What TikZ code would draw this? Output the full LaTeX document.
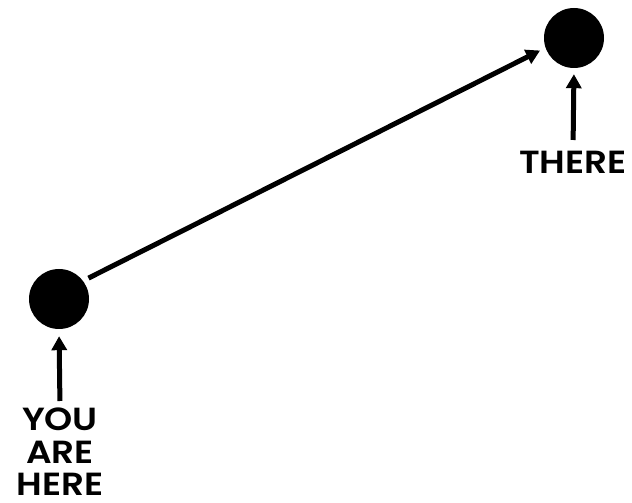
\documentclass[tikz,border=0pt]{standalone}
\usepackage{fontspec}
\setmainfont{Poppins}[BoldFont={Poppins SemiBold}, BoldFeatures={FakeStretch=1.12}]
\usetikzlibrary{arrows.meta}

\begin{document}
\begin{tikzpicture}[
  x=1pt, y=1pt,
  spot/.style={circle, fill=black, minimum size=60pt, inner sep=0pt},
  tag/.style={font=\fontsize{32}{32.5}\selectfont\bfseries, align=center,
              inner sep=0pt, text depth=0pt, anchor=north},
  pointer/.style={-{Triangle[length=14pt,width=15pt]}, line width=5pt},
]
\useasboundingbox (0,0) rectangle (632,503);

% ---------------- the two spots -------------------------------------
\node[spot] (here)  at (59,204) {};
\node[spot] (there) at (574,465) {};

% ---------------- labels --------------------------------------------
\node[tag] (youlbl)   at (60,95)   {YOU\\ARE\\HERE};
\node[tag] (therelbl) at (573,352) {THERE};

% ---------------- arrows --------------------------------------------
\draw[pointer, shorten <=7pt, shorten >=7pt] (youlbl.north) -- (here.south);
\draw[pointer, shorten <=11pt, shorten >=6pt] (therelbl.north) -- (there.south);
\draw[pointer, shorten <=6pt, shorten >=6pt] (here.37) -- (there.199);

\end{tikzpicture}
\end{document}
